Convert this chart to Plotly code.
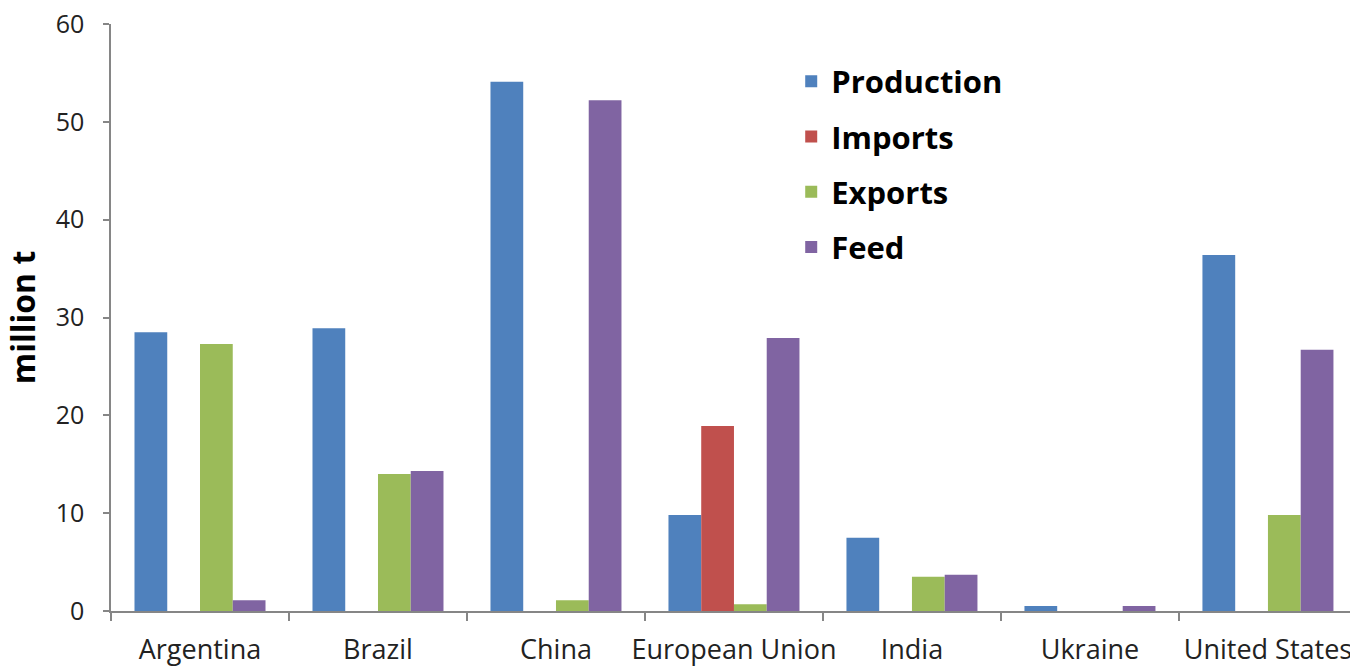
import plotly.graph_objects as go

# Soybean balance by country (million tonnes)
countries = ["Argentina", "Brazil", "China", "European Union", "India", "Ukraine", "United States"]
production = [28.5, 28.9, 54.1, 9.8, 7.5, 0.5, 36.4]
imports = [0, 0, 0, 18.9, 0, 0, 0]
exports = [27.3, 14.0, 1.1, 0.7, 3.5, 0, 9.8]
feed = [1.1, 14.3, 52.2, 27.9, 3.7, 0.5, 26.7]

series = [
    ("Production", production, "#4F81BD"),
    ("Imports", imports, "#C0504D"),
    ("Exports", exports, "#9BBB59"),
    ("Feed", feed, "#8064A2"),
]

fig = go.Figure()
for name, vals, color in series:
    fig.add_trace(go.Bar(
        x=countries, y=vals, name=name, legendgroup=name,
        marker=dict(color=color, line=dict(width=0)),
    ))

axis_col = "#868686"
fig.update_layout(
    width=1350, height=666,
    margin=dict(l=111, r=0, t=24, b=54.5, autoexpand=False),
    paper_bgcolor="white", plot_bgcolor="white",
    barmode="group", bargap=0.264, bargroupgap=0,
    font=dict(family="Open Sans", color="#222222"),
    legend=dict(
        x=0.549, y=0.948, xanchor="left", yanchor="top",
        font=dict(family="Open Sans", size=31, color="black", weight="bold"),
        traceorder="grouped", tracegroupgap=12,
        bgcolor="rgba(0,0,0,0)",
    ),
    showlegend=True,
)
fig.update_xaxes(
    type="category", range=[-0.5, 6.461],
    showline=True, linecolor=axis_col, linewidth=1.5,
    ticks="outside", tickson="boundaries", ticklen=8, tickcolor=axis_col, tickwidth=1.5,
    tickangle=0, ticklabelstandoff=14,
    tickfont=dict(size=27, color="#222222"),
    showgrid=False, zeroline=False, automargin=False,
)
fig.update_yaxes(
    range=[0, 60], tickvals=[0, 10, 20, 30, 40, 50, 60],
    showline=True, linecolor=axis_col, linewidth=1.5,
    ticks="outside", ticklen=6, tickcolor=axis_col, tickwidth=1.5,
    ticklabelstandoff=14,
    tickfont=dict(size=25, color="#222222"),
    showgrid=False, zeroline=False, automargin=False,
    title=dict(text="million t", font=dict(size=32, color="black", weight="bold"), standoff=10),
)

fig.write_html("out.html")
